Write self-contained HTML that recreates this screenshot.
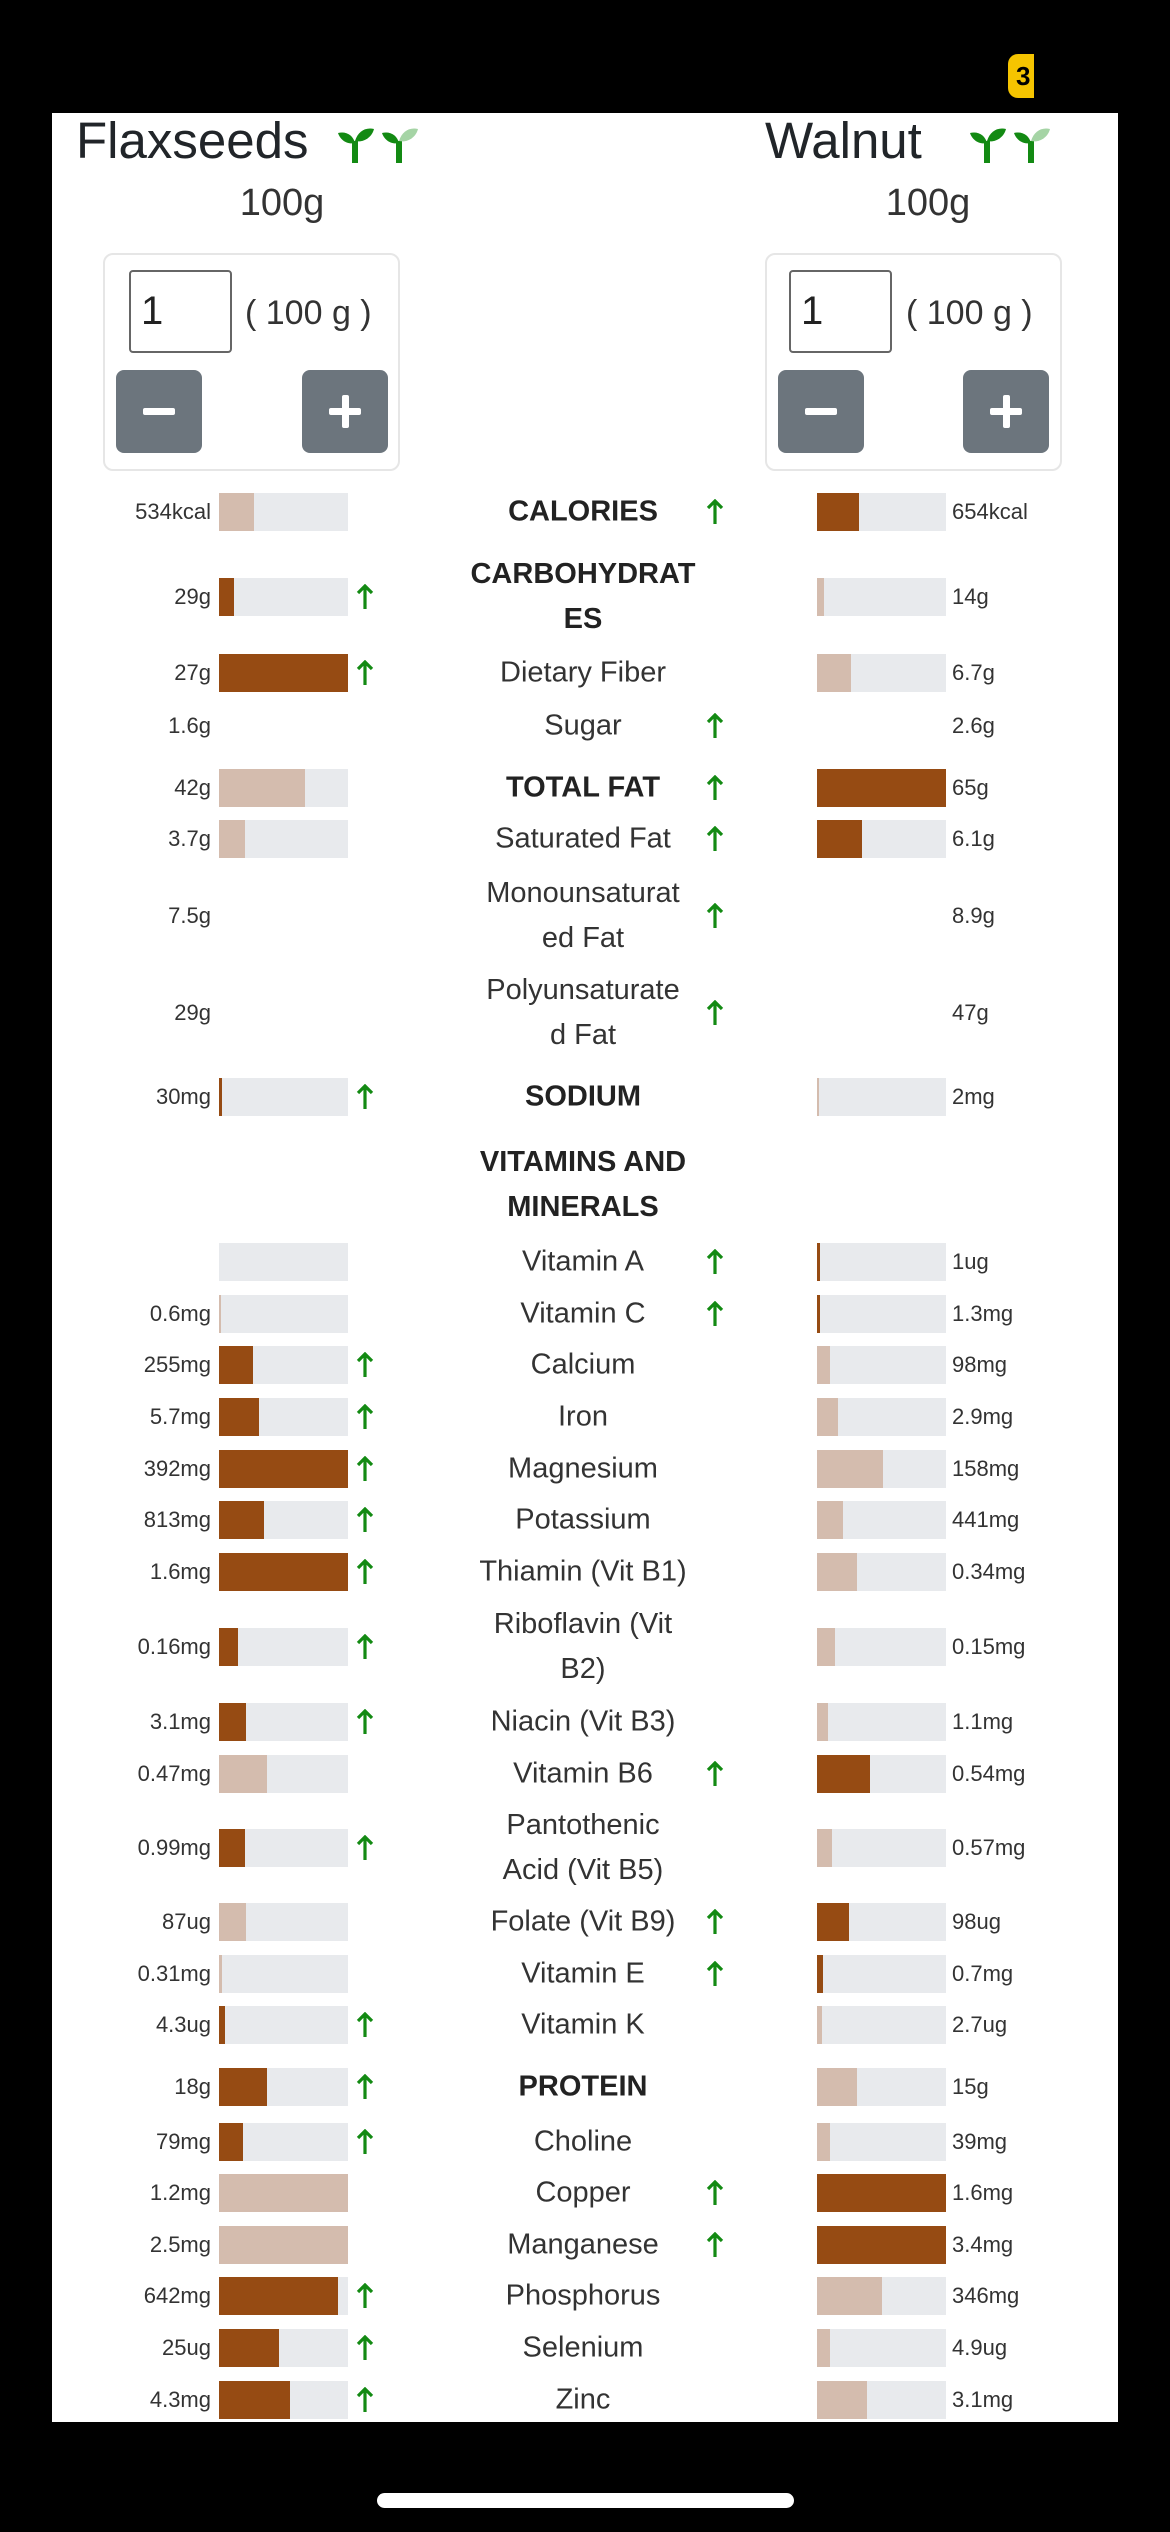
<!DOCTYPE html>
<html><head><meta charset="utf-8">
<style>
*{margin:0;padding:0;box-sizing:border-box}
body{width:1170px;height:2532px;background:#000;position:relative;overflow:hidden;font-family:"Liberation Sans",sans-serif;color:#333}
#panel{position:absolute;left:52px;top:113px;width:1066px;height:2309px;background:#fff}
.abs{position:absolute}
.title{position:absolute;font-size:51px;color:#212529;top:110px;line-height:62px}
.sub{position:absolute;font-size:38px;color:#333;top:180px;line-height:46px;width:200px;text-align:center}
.box{position:absolute;top:253px;width:297px;height:218px;border:2px solid #e6e6e6;border-radius:10px;background:#fff}
.inp{position:absolute;top:270px;width:103px;height:83px;border:2px solid #666;border-radius:4px;font-size:40px;line-height:79px;padding-left:10px;color:#222}
.g{position:absolute;top:290px;font-size:34px;line-height:46px;color:#333}
.btn{position:absolute;top:370px;width:86px;height:83px;background:#6c757d;border-radius:8px}
.btn .h{position:absolute;left:27px;top:38px;width:32px;height:7px;background:#fff;border-radius:2px}
.btn .v{position:absolute;left:40px;top:25px;width:7px;height:33px;background:#fff;border-radius:2px}
.row{position:absolute;left:0;width:1170px;height:0}
.vl{position:absolute;right:959px;top:-14px;font-size:22px;line-height:28px;white-space:nowrap}
.vr{position:absolute;left:952px;top:-14px;font-size:22px;line-height:28px;white-space:nowrap}
.bl,.br{position:absolute;top:-19px;width:129px;height:38px;background:#e8eaed}
.bl{left:219px}.br{left:817px}
.bl i,.br i{position:absolute;left:0;top:0;height:38px}
.b{background:#964b13}.t{background:#d4bcae}
.lab{position:absolute;left:443px;width:280px;text-align:center;font-size:29px;line-height:45px;transform:translateY(-50%);top:0;color:#333}
.bold{font-weight:bold;color:#222}
.al,.ac{position:absolute;top:-13px;width:18px;height:26px}
.al{left:356px}.ac{left:706px}
</style></head><body>
<div class="abs" style="left:1008px;top:54px;width:26px;height:44px;background:#f5c400;border-radius:10px 0 0 10px"></div>
<div class="abs" style="left:1016px;top:62px;width:18px;height:28px;font-size:26px;font-weight:bold;color:#000;line-height:28px">3</div>
<div id="panel"></div>
<div class="title" style="left:76px">Flaxseeds</div>
<div class="title" style="left:765px">Walnut</div>
<svg class="abs" style="left:338px;top:127px" width="88" height="36" viewBox="0 0 88 36">
<g fill="#138a13"><rect x="14" y="14" width="6" height="22"/><path d="M17 16 C8 18 2 12 0 6 C8 4 15 8 17 16Z"/><path d="M17 14 C20 4 28 0 36 2 C34 10 26 16 17 14Z"/>
<rect x="58" y="14" width="6" height="22"/><path d="M61 16 C52 18 46 12 44 6 C52 4 59 8 61 16Z"/></g><path d="M61 14 C64 4 72 0 80 2 C78 10 70 16 61 14Z" fill="#a5d4a5"/></svg>
<svg class="abs" style="left:970px;top:127px" width="88" height="36" viewBox="0 0 88 36">
<g fill="#138a13"><rect x="14" y="14" width="6" height="22"/><path d="M17 16 C8 18 2 12 0 6 C8 4 15 8 17 16Z"/><path d="M17 14 C20 4 28 0 36 2 C34 10 26 16 17 14Z"/>
<rect x="58" y="14" width="6" height="22"/><path d="M61 16 C52 18 46 12 44 6 C52 4 59 8 61 16Z"/></g><path d="M61 14 C64 4 72 0 80 2 C78 10 70 16 61 14Z" fill="#a5d4a5"/></svg>
<div class="sub" style="left:182px">100g</div>
<div class="sub" style="left:828px">100g</div>
<div class="box" style="left:103px"></div>
<div class="box" style="left:765px"></div>
<div class="inp" style="left:129px">1</div>
<div class="inp" style="left:789px">1</div>
<div class="g" style="left:245px">( 100 g )</div>
<div class="g" style="left:906px">( 100 g )</div>
<div class="btn" style="left:116px"><div class="h"></div></div>
<div class="btn" style="left:302px"><div class="h"></div><div class="v"></div></div>
<div class="btn" style="left:778px"><div class="h"></div></div>
<div class="btn" style="left:963px"><div class="h"></div><div class="v"></div></div>

<svg width="0" height="0" style="position:absolute"><defs><symbol id="ar" viewBox="0 0 18 26"><path d="M9 2 L9 25 M2 9 L9 2 L16 9" stroke="#138a13" stroke-width="3.2" fill="none"/></symbol></defs></svg>

<div class="row" style="top:512px"><span class="vl">534kcal</span><div class="bl"><i class="t" style="width:35px"></i></div><div class="lab bold">CALORIES</div><svg class="ac"><use href="#ar"/></svg><div class="br"><i class="b" style="width:42px"></i></div><span class="vr">654kcal</span></div>
<div class="row" style="top:597px"><span class="vl">29g</span><div class="bl"><i class="b" style="width:15px"></i></div><svg class="al"><use href="#ar"/></svg><div class="lab bold">CARBOHYDRAT<br>ES</div><div class="br"><i class="t" style="width:7px"></i></div><span class="vr">14g</span></div>
<div class="row" style="top:673px"><span class="vl">27g</span><div class="bl"><i class="b" style="width:129px"></i></div><svg class="al"><use href="#ar"/></svg><div class="lab">Dietary Fiber</div><div class="br"><i class="t" style="width:34px"></i></div><span class="vr">6.7g</span></div>
<div class="row" style="top:726px"><span class="vl">1.6g</span><div class="lab">Sugar</div><svg class="ac"><use href="#ar"/></svg><span class="vr">2.6g</span></div>
<div class="row" style="top:788px"><span class="vl">42g</span><div class="bl"><i class="t" style="width:86px"></i></div><div class="lab bold">TOTAL FAT</div><svg class="ac"><use href="#ar"/></svg><div class="br"><i class="b" style="width:129px"></i></div><span class="vr">65g</span></div>
<div class="row" style="top:839px"><span class="vl">3.7g</span><div class="bl"><i class="t" style="width:26px"></i></div><div class="lab">Saturated Fat</div><svg class="ac"><use href="#ar"/></svg><div class="br"><i class="b" style="width:45px"></i></div><span class="vr">6.1g</span></div>
<div class="row" style="top:916px"><span class="vl">7.5g</span><div class="lab">Monounsaturat<br>ed Fat</div><svg class="ac"><use href="#ar"/></svg><span class="vr">8.9g</span></div>
<div class="row" style="top:1013px"><span class="vl">29g</span><div class="lab">Polyunsaturate<br>d Fat</div><svg class="ac"><use href="#ar"/></svg><span class="vr">47g</span></div>
<div class="row" style="top:1097px"><span class="vl">30mg</span><div class="bl"><i class="b" style="width:3px"></i></div><svg class="al"><use href="#ar"/></svg><div class="lab bold">SODIUM</div><div class="br"><i class="t" style="width:2px"></i></div><span class="vr">2mg</span></div>
<div class="row" style="top:1185px"><div class="lab bold">VITAMINS AND<br>MINERALS</div></div>
<div class="row" style="top:1262px"><div class="bl"></div><div class="lab">Vitamin A</div><svg class="ac"><use href="#ar"/></svg><div class="br"><i class="b" style="width:3px"></i></div><span class="vr">1ug</span></div>
<div class="row" style="top:1314px"><span class="vl">0.6mg</span><div class="bl"><i class="t" style="width:2px"></i></div><div class="lab">Vitamin C</div><svg class="ac"><use href="#ar"/></svg><div class="br"><i class="b" style="width:3px"></i></div><span class="vr">1.3mg</span></div>
<div class="row" style="top:1365px"><span class="vl">255mg</span><div class="bl"><i class="b" style="width:34px"></i></div><svg class="al"><use href="#ar"/></svg><div class="lab">Calcium</div><div class="br"><i class="t" style="width:13px"></i></div><span class="vr">98mg</span></div>
<div class="row" style="top:1417px"><span class="vl">5.7mg</span><div class="bl"><i class="b" style="width:40px"></i></div><svg class="al"><use href="#ar"/></svg><div class="lab">Iron</div><div class="br"><i class="t" style="width:21px"></i></div><span class="vr">2.9mg</span></div>
<div class="row" style="top:1469px"><span class="vl">392mg</span><div class="bl"><i class="b" style="width:129px"></i></div><svg class="al"><use href="#ar"/></svg><div class="lab">Magnesium</div><div class="br"><i class="t" style="width:66px"></i></div><span class="vr">158mg</span></div>
<div class="row" style="top:1520px"><span class="vl">813mg</span><div class="bl"><i class="b" style="width:45px"></i></div><svg class="al"><use href="#ar"/></svg><div class="lab">Potassium</div><div class="br"><i class="t" style="width:26px"></i></div><span class="vr">441mg</span></div>
<div class="row" style="top:1572px"><span class="vl">1.6mg</span><div class="bl"><i class="b" style="width:129px"></i></div><svg class="al"><use href="#ar"/></svg><div class="lab">Thiamin (Vit B1)</div><div class="br"><i class="t" style="width:40px"></i></div><span class="vr">0.34mg</span></div>
<div class="row" style="top:1647px"><span class="vl">0.16mg</span><div class="bl"><i class="b" style="width:19px"></i></div><svg class="al"><use href="#ar"/></svg><div class="lab">Riboflavin (Vit<br>B2)</div><div class="br"><i class="t" style="width:18px"></i></div><span class="vr">0.15mg</span></div>
<div class="row" style="top:1722px"><span class="vl">3.1mg</span><div class="bl"><i class="b" style="width:27px"></i></div><svg class="al"><use href="#ar"/></svg><div class="lab">Niacin (Vit B3)</div><div class="br"><i class="t" style="width:11px"></i></div><span class="vr">1.1mg</span></div>
<div class="row" style="top:1774px"><span class="vl">0.47mg</span><div class="bl"><i class="t" style="width:48px"></i></div><div class="lab">Vitamin B6</div><svg class="ac"><use href="#ar"/></svg><div class="br"><i class="b" style="width:53px"></i></div><span class="vr">0.54mg</span></div>
<div class="row" style="top:1848px"><span class="vl">0.99mg</span><div class="bl"><i class="b" style="width:26px"></i></div><svg class="al"><use href="#ar"/></svg><div class="lab">Pantothenic<br>Acid (Vit B5)</div><div class="br"><i class="t" style="width:15px"></i></div><span class="vr">0.57mg</span></div>
<div class="row" style="top:1922px"><span class="vl">87ug</span><div class="bl"><i class="t" style="width:27px"></i></div><div class="lab">Folate (Vit B9)</div><svg class="ac"><use href="#ar"/></svg><div class="br"><i class="b" style="width:32px"></i></div><span class="vr">98ug</span></div>
<div class="row" style="top:1974px"><span class="vl">0.31mg</span><div class="bl"><i class="t" style="width:3px"></i></div><div class="lab">Vitamin E</div><svg class="ac"><use href="#ar"/></svg><div class="br"><i class="b" style="width:6px"></i></div><span class="vr">0.7mg</span></div>
<div class="row" style="top:2025px"><span class="vl">4.3ug</span><div class="bl"><i class="b" style="width:6px"></i></div><svg class="al"><use href="#ar"/></svg><div class="lab">Vitamin K</div><div class="br"><i class="t" style="width:5px"></i></div><span class="vr">2.7ug</span></div>
<div class="row" style="top:2087px"><span class="vl">18g</span><div class="bl"><i class="b" style="width:48px"></i></div><svg class="al"><use href="#ar"/></svg><div class="lab bold">PROTEIN</div><div class="br"><i class="t" style="width:40px"></i></div><span class="vr">15g</span></div>
<div class="row" style="top:2142px"><span class="vl">79mg</span><div class="bl"><i class="b" style="width:24px"></i></div><svg class="al"><use href="#ar"/></svg><div class="lab">Choline</div><div class="br"><i class="t" style="width:13px"></i></div><span class="vr">39mg</span></div>
<div class="row" style="top:2193px"><span class="vl">1.2mg</span><div class="bl"><i class="t" style="width:129px"></i></div><div class="lab">Copper</div><svg class="ac"><use href="#ar"/></svg><div class="br"><i class="b" style="width:129px"></i></div><span class="vr">1.6mg</span></div>
<div class="row" style="top:2245px"><span class="vl">2.5mg</span><div class="bl"><i class="t" style="width:129px"></i></div><div class="lab">Manganese</div><svg class="ac"><use href="#ar"/></svg><div class="br"><i class="b" style="width:129px"></i></div><span class="vr">3.4mg</span></div>
<div class="row" style="top:2296px"><span class="vl">642mg</span><div class="bl"><i class="b" style="width:119px"></i></div><svg class="al"><use href="#ar"/></svg><div class="lab">Phosphorus</div><div class="br"><i class="t" style="width:65px"></i></div><span class="vr">346mg</span></div>
<div class="row" style="top:2348px"><span class="vl">25ug</span><div class="bl"><i class="b" style="width:60px"></i></div><svg class="al"><use href="#ar"/></svg><div class="lab">Selenium</div><div class="br"><i class="t" style="width:13px"></i></div><span class="vr">4.9ug</span></div>
<div class="row" style="top:2400px"><span class="vl">4.3mg</span><div class="bl"><i class="b" style="width:71px"></i></div><svg class="al"><use href="#ar"/></svg><div class="lab">Zinc</div><div class="br"><i class="t" style="width:50px"></i></div><span class="vr">3.1mg</span></div>

<div class="abs" style="left:0;top:2422px;width:1170px;height:110px;background:#000"></div>
<div class="abs" style="left:377px;top:2493px;width:417px;height:15px;background:#fff;border-radius:8px"></div>
</body></html>
